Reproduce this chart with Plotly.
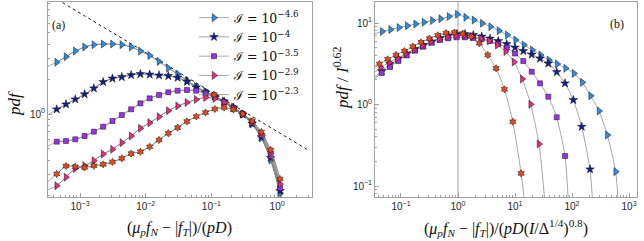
import plotly.graph_objects as go
import math

# ---------------- panel (a) data ----------------
xa = [4.42e-4, 6.12e-4, 8.48e-4, 1.175e-3, 1.626e-3, 2.25e-3, 3.12e-3, 4.33e-3, 6.0e-3, 8.30e-3,
      1.15e-2, 1.595e-2, 2.21e-2, 3.06e-2, 4.24e-2, 5.87e-2, 8.14e-2, 0.1127, 0.156, 0.2165,
      0.300, 0.416, 0.576, 0.798, 1.106]
a_blue = [2.791, 3.119, 3.492, 3.781, 3.957, 4.013, 4.013, 3.957, 3.781, 3.492,
          3.194, 2.835, 2.492, 2.212, 1.944, 1.726, 1.563, 1.429, 1.295, 1.149,
          1.0, 0.820, 0.621, 0.401, 0.208]
a_navy = [1.098, 1.212, 1.339, 1.479, 1.666, 1.888, 2.023, 2.084, 2.169, 2.212,
          2.190, 2.156, 2.127, 2.056, 1.899, 1.699, 1.532, 1.415, 1.282, 1.138,
          0.990, 0.828, 0.633, 0.418, 0.217]
a_purple = [0.577, 0.585, 0.605, 0.646, 0.704, 0.777, 0.870, 0.980, 1.098, 1.236,
            1.366, 1.458, 1.539, 1.588, 1.610, 1.588, 1.502, 1.401, 1.269, 1.126,
            1.0, 0.836, 0.653, 0.434, 0.230]
a_pink = [0.241, 0.285, 0.340, 0.358, 0.396, 0.452, 0.496, 0.566, 0.646, 0.753,
          0.841, 0.948, 1.068, 1.172, 1.256, 1.334, 1.388, 1.360, 1.256, 1.126,
          1.0, 0.853, 0.672, 0.461, 0.249]
a_red = [0.304, 0.356, 0.351, 0.346, 0.358, 0.368, 0.386, 0.415, 0.456, 0.473,
         0.522, 0.597, 0.682, 0.762, 0.862, 0.952, 1.030, 1.104, 1.138, 1.093,
         1.0, 0.870, 0.700, 0.490, 0.275]
# gray fit lines continue to the frame on both sides
a_edge_x = [3.2e-4, 1.17]
a_edge_blue = [2.56, 0.15]
a_edge_navy = [0.98, 0.15]
a_edge_purple = [0.523, 0.15]
a_edge_pink = [0.221, 0.15]
a_edge_red = [0.261, 0.15]
# dotted power law
pl_x = [3.16e-4, 2.95]
pl_y = [10.96, 0.49]

# ---------------- panel (b) data ----------------
xb_blue = [0.047, 0.0659, 0.0923, 0.129, 0.181, 0.254, 0.355, 0.497, 0.695, 0.973,
           1.364, 1.91, 2.67, 3.74, 5.24, 7.33, 10.28, 14.4, 20.1, 28.2,
           39.4, 55.2, 77.4, 108.4, 151.7, 212.3, 297.9, 416.9, 583.4]
b_blue = [7.87, 8.32, 8.81, 9.27, 9.72, 10.20, 10.73, 11.29, 12.02, 12.79,
          11.75, 10.88, 9.92, 9.01, 8.04, 7.13, 6.18, 5.37, 4.66, 4.05,
          3.52, 3.14, 2.78, 2.41, 1.87, 1.28, 0.832, 0.422, 0.150]
xb_navy = [0.04585, 0.0641, 0.0897, 0.1259, 0.176, 0.246, 0.3455, 0.483, 0.676, 0.949,
           1.327, 1.855, 2.605, 3.643, 5.093, 7.152, 10.0, 13.98, 19.63, 27.46,
           38.39, 53.9, 75.4, 105.4, 148.0, 206.9]
b_navy = [2.577, 3.14, 3.667, 4.224, 4.797, 5.37, 5.93, 6.546, 7.025, 7.328,
          7.328, 7.126, 6.83, 6.452, 6.013, 5.525, 5.004, 4.533, 4.107, 3.667,
          3.185, 2.504, 1.820, 1.136, 0.534, 0.1603]
xb_purple = [0.04585, 0.0641, 0.0897, 0.1259, 0.176, 0.246, 0.3455, 0.483, 0.676, 0.949,
             1.327, 1.855, 2.605, 3.643, 5.093, 7.152, 10.0, 13.98, 19.63, 27.46,
             38.39, 53.9, 75.4]
b_purple = [2.435, 2.884, 3.418, 3.993, 4.572, 5.119, 5.732, 6.184, 6.490, 6.675,
            6.675, 6.546, 6.363, 6.013, 5.525, 5.004, 4.224, 3.418, 2.526, 1.820,
            1.246, 0.697, 0.2334]
xb_pink = [0.04405, 0.0616, 0.0861, 0.1209, 0.1691, 0.2364, 0.3320, 0.4642, 0.6494, 0.9113,
           1.274, 1.782, 2.501, 3.499, 4.892, 6.868, 9.605, 13.43, 18.85, 26.37]
b_pink = [2.844, 3.277, 3.721, 4.224, 4.730, 5.296, 5.846, 6.452, 6.830, 7.025,
          7.025, 6.830, 6.452, 6.013, 5.37, 4.470, 3.322, 2.055, 1.006, 0.3276]
xb_red = [0.0418, 0.0586, 0.082, 0.1148, 0.161, 0.2254, 0.315, 0.4424, 0.618, 0.865,
          1.214, 1.698, 2.374, 3.33, 4.66, 6.52, 9.15, 12.8]
b_red = [3.14, 3.59, 4.05, 4.53, 5.15, 5.80, 6.45, 7.07, 7.54, 7.65,
         7.43, 6.83, 5.64, 4.05, 2.78, 1.537, 0.615, 0.143]
b_left_x = 0.035
b_left = {"blue": 7.4, "navy": 2.2, "purple": 2.1, "pink": 2.5, "red": 2.85}
b_right = {"blue": (660, 0.05), "navy": (235, 0.05), "purple": (88, 0.05),
           "pink": (34.5, 0.05), "red": (15.3, 0.05)}

series_names = ["ℐ = 10<sup>−4.6</sup>", "ℐ = 10<sup>−4</sup>", "ℐ = 10<sup>−3.5</sup>",
                "ℐ = 10<sup>−2.9</sup>", "ℐ = 10<sup>−2.3</sup>"]
keys = ["blue", "navy", "purple", "pink", "red"]
colors = {"blue": "#2a8de8", "navy": "#12208e", "purple": "#9a30ec",
          "pink": "#ec2a7e", "red": "#e8481c"}
symbols = {"blue": "triangle-right", "navy": "star", "purple": "square",
           "pink": "triangle-right", "red": "hexagram"}
sizes = {"blue": 7, "navy": 6.5, "purple": 5, "pink": 7, "red": 5.5}

GRAY = "#808080"
fig = go.Figure()

a_y = {"blue": a_blue, "navy": a_navy, "purple": a_purple, "pink": a_pink, "red": a_red}
a_edge = {"blue": a_edge_blue, "navy": a_edge_navy, "purple": a_edge_purple,
          "pink": a_edge_pink, "red": a_edge_red}
b_x = {"blue": xb_blue, "navy": xb_navy, "purple": xb_purple, "pink": xb_pink, "red": xb_red}
b_y = {"blue": b_blue, "navy": b_navy, "purple": b_purple, "pink": b_pink, "red": b_red}

# gray fit lines
for k in keys:
    fig.add_trace(go.Scatter(x=[a_edge_x[0]] + xa + [a_edge_x[1]],
                             y=[a_edge[k][0]] + a_y[k] + [a_edge[k][1]],
                             mode="lines", line=dict(color=GRAY, width=0.7, shape="spline", smoothing=0.6),
                             showlegend=False, hoverinfo="skip", xaxis="x", yaxis="y"))
    fig.add_trace(go.Scatter(x=[b_left_x] + b_x[k] + [b_right[k][0]],
                             y=[b_left[k]] + b_y[k] + [b_right[k][1]],
                             mode="lines", line=dict(color=GRAY, width=0.7, shape="spline", smoothing=0.6),
                             showlegend=False, hoverinfo="skip", xaxis="x2", yaxis="y2"))

fig.add_trace(go.Scatter(x=pl_x, y=pl_y, mode="lines",
                         line=dict(color="black", width=0.9, dash="dot"),
                         showlegend=False, xaxis="x", yaxis="y"))

# markers
for k, nm in zip(keys, series_names):
    mk = dict(symbol=symbols[k], size=sizes[k], color=colors[k],
              line=dict(color="#111111", width=0.5))
    fig.add_trace(go.Scatter(x=xa, y=a_y[k], mode="lines+markers", name=nm,
                             line=dict(color=GRAY, width=0.7, shape="spline", smoothing=0.6),
                             marker=mk, xaxis="x", yaxis="y"))
    fig.add_trace(go.Scatter(x=b_x[k], y=b_y[k], mode="markers", name=nm,
                             marker=mk, showlegend=False, xaxis="x2", yaxis="y2"))

W, H = 644, 241
def px(xp):
    return xp / W
def py(yp):
    return 1 - yp / H

tickfont = dict(family="Liberation Sans, Arial, sans-serif", size=10, color="#262626")
def sup_labels(vals):
    out = []
    for v in vals:
        e = int(round(math.log10(v)))
        out.append("10<sup>%s</sup>" % (("−%d" % -e) if e < 0 else "%d" % e))
    return out

def minor_vals(lo, hi):
    vals = []
    for d in range(lo, hi + 1):
        for m in range(2, 10):
            vals.append(m * 10.0 ** d)
    return vals

axis_common = dict(type="log", showgrid=False, zeroline=False, showline=True,
                   linecolor="#a0a0a0", linewidth=1, mirror=True,
                   ticks="inside", ticklen=4, tickcolor="#a0a0a0", tickfont=tickfont)

xa_ticks = [1e-3, 1e-2, 1e-1, 1]
ya_ticks = [1]
xb_ticks = [1e-1, 1, 10, 100, 1000]
yb_ticks = [0.1, 1, 10]

fig.update_layout(
    width=W, height=H, margin=dict(l=0, r=0, t=0, b=0),
    paper_bgcolor="white", plot_bgcolor="white",
    xaxis=dict(domain=[px(48), px(312)], range=[-3.487, 0.531], anchor="y",
               tickmode="array", tickvals=xa_ticks, ticktext=sup_labels(xa_ticks),
               minor=dict(tickmode="array", tickvals=minor_vals(-4, 0), ticks="inside",
                          ticklen=2, tickcolor="#a0a0a0"), **axis_common),
    yaxis=dict(domain=[py(197), py(2)], range=[-0.7155, 0.9655], anchor="x",
               tickmode="array", tickvals=ya_ticks, ticktext=sup_labels(ya_ticks),
               minor=dict(tickmode="array", tickvals=minor_vals(-1, 0), ticks="inside",
                          ticklen=2, tickcolor="#a0a0a0"), **axis_common),
    xaxis2=dict(domain=[px(375), px(637)], range=[-1.456, 3.140], anchor="y2",
                tickmode="array", tickvals=xb_ticks, ticktext=sup_labels(xb_ticks),
                minor=dict(tickmode="array", tickvals=minor_vals(-2, 3), ticks="inside",
                           ticklen=2, tickcolor="#a0a0a0"), **axis_common),
    yaxis2=dict(domain=[py(197), py(2)], range=[-1.135, 1.258], anchor="x2",
                tickmode="array", tickvals=yb_ticks, ticktext=sup_labels(yb_ticks),
                minor=dict(tickmode="array", tickvals=minor_vals(-2, 1), ticks="inside",
                           ticklen=2, tickcolor="#a0a0a0"), **axis_common),
    showlegend=True,
    legend=dict(x=px(194), y=py(3), xanchor="left", yanchor="top",
                bgcolor="rgba(0,0,0,0)", borderwidth=0,
                font=dict(family="DejaVu Serif, serif", size=12.5, color="#111111"),
                itemwidth=30, tracegroupgap=0),
)

# vertical line at x = 1 in panel (b)
fig.add_shape(type="line", xref="x2", yref="paper", x0=1, x1=1,
              y0=py(197), y1=py(2), line=dict(color="#a0a0a0", width=1), layer="below")

serif = "Liberation Serif, DejaVu Serif, serif"
ann = [
    dict(text="(<i>μ<sub>p</sub>f<sub>N</sub></i> − |<i>f<sub>T</sub></i>|)/(<i>pD</i>)",
         x=px(180), y=py(228), size=16, angle=0),
    dict(text="(<i>μ<sub>p</sub>f<sub>N</sub></i> − |<i>f<sub>T</sub></i>|)/(<i>pD</i>(<i>I</i>/Δ<sup>1/4</sup>)<sup>0.8</sup>)",
         x=px(506), y=py(228), size=16, angle=0),
    dict(text="<i>pdf</i>", x=px(14), y=py(104), size=17, angle=-90),
    dict(text="<i>pdf</i> / <i>I</i><sup>0.62</sup>", x=px(341), y=py(78), size=17, angle=-90),
    dict(text="(a)", x=px(58), y=py(25), size=12, angle=0),
    dict(text="(b)", x=px(617), y=py(24), size=12, angle=0),
]
for a in ann:
    fig.add_annotation(text=a["text"], x=a["x"], y=a["y"], xref="paper", yref="paper",
                       showarrow=False, textangle=a["angle"], xanchor="center", yanchor="middle",
                       font=dict(family=serif, size=a["size"], color="#111111"))

fig.write_html("out.html")
